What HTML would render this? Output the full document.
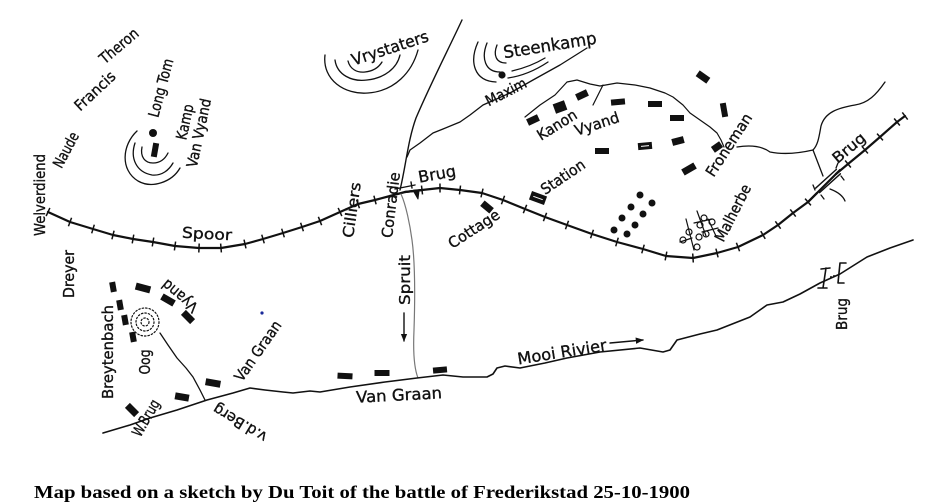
<!DOCTYPE html>
<html><head><meta charset="utf-8"><style>
html,body{margin:0;padding:0;background:#fff;}
svg{display:block;}
</style></head><body>
<svg width="932" height="504" viewBox="0 0 932 504" xmlns="http://www.w3.org/2000/svg">
<defs>
<marker id="t" viewBox="-5 -5 10 10" markerWidth="10" markerHeight="10" refX="0" refY="0" orient="auto" markerUnits="userSpaceOnUse" overflow="visible">
<line x1="0" y1="-4.5" x2="0" y2="4.5" stroke="#111" stroke-width="1.5"/>
</marker>
<marker id="ah" viewBox="0 0 10 10" markerWidth="8" markerHeight="8" refX="9" refY="5" orient="auto" markerUnits="userSpaceOnUse">
<path d="M0,1 L10,5 L0,9 Z" fill="#111"/>
</marker>
</defs>
<rect width="932" height="504" fill="#fff"/>

<g fill="none" stroke="#111" stroke-linecap="round" stroke-linejoin="round">
<polyline stroke-width="2.2" marker-start="url(#t)" marker-mid="url(#t)" points="48,212 70,222 93,229 113,235 133,239 153,242 175,246 199,248 221,248 245,244 263,239 283,233 302,227 320,221 340,212 358,204 375,200 390,196"/>
<polyline stroke-width="2.2" points="390,196 405,192 422,190"/>
<polyline stroke-width="2.2" marker-mid="url(#t)" points="405,192 422,190 440,188 460,190 482,193 503,200 525,209 545,217 567,225 592,234 617,242 643,249 666,256 693,258 717,253 738,247 763,235 778,225 793,213 808,202 817,193"/>
<polyline stroke-width="2.2" points="808,202 817,193 828,182 840,170"/>
<polyline stroke-width="2.2" marker-mid="url(#t)" marker-end="url(#t)" points="836,174 848,164 865,150 880,137 897,122 905,116"/>

<line x1="815.6" y1="188.2" x2="836.4" y2="169.4" stroke-width="1.4"/>
<line x1="819.6" y1="192.6" x2="840.4" y2="173.8" stroke-width="1.4"/>
<path d="M813,185 L815,190 M836,168 L838,163 M821,195 L824,199 M841,176 L844,180" stroke-width="1.3"/>
<path d="M830,189 C838,192 843,196 845,201" stroke-width="1.3"/>

<path d="M395,189 L415,185 M396,194 L416,190 M411,182 L412,188" stroke-width="1.4"/>
<path d="M414,192 L419,191 L418,199 Z" fill="#111" stroke-width="1"/>

<path d="M462,20 C448,50 430,85 416,118 C408,140 406,165 400,190" stroke-width="1.4"/>
<path d="M401,194 C406,205 410,225 412,240 C415,262 415,300 414,330 C413,352 414,368 418,378" stroke="#777" stroke-width="1.2"/>
<polyline stroke-width="1.3" points="587,48 560,65 533,80 510,93 483,105 470,115 460,122 443,129 433,133 420,143 410,150 407,157"/>
<polyline stroke-width="1.2" points="525,117 540,105 555,95 567,82 577,80 590,84 600,86 617,83 635,85 650,88 665,93 673,97 683,105 690,113 700,120 710,127 717,133 721,140 724,147"/>
<polyline stroke-width="1.2" points="603,85 598,95 593,105"/>
<path d="M885,82 C876,95 868,103 855,105 C838,108 825,112 821,126 C819,137 818,145 813,150" stroke-width="1.3"/>
<path d="M737,147 C750,145 762,146 770,152 C785,155 800,153 813,150" stroke-width="1.3"/>
<path d="M813,150 L823,176" stroke-width="1.3"/>

<polyline stroke-width="1.6" points="103,433 130,425 150,418 177,410 207,400 233,393 250,388 265,390 283,392 293,393 310,391 320,392 350,387 385,382 417,378 443,375 463,377 487,377 493,374 497,368 505,366 520,368 545,363 567,358 600,352 640,348 663,352 670,350 677,340 700,334 717,330 750,317 767,305 783,302 800,294 820,283 840,274 867,257 890,248 913,240"/>
<path d="M821,269 L830,268 M826,268 L823,288 M818,288 L827,288" stroke-width="1.6"/>
<path d="M846,263 L840,263 L838,283 L844,283" stroke-width="1.6"/>

<polyline stroke-width="1.3" points="160,333 168,345 177,358 186,368 193,377 200,390 205,400"/>

<path d="M137,131 C122,145 120,170 138,181 C152,189 172,182 180,168" stroke-width="1.3"/>
<path d="M135,143 C130,158 136,172 152,175 C162,176 169,170 173,163" stroke-width="1.3"/>
<path d="M142,147 C140,157 145,163 153,163 C160,163 165,159 168,153" stroke-width="1.3"/>

<path d="M325,55 C322,80 345,95 368,93 C395,91 412,72 418,50" stroke-width="1.3"/>
<path d="M335,60 C337,75 352,82 367,80 C385,78 397,68 400,55" stroke-width="1.3"/>
<path d="M348,61 C350,69 357,73 365,72 C374,71 379,67 382,62" stroke-width="1.3"/>

<path d="M478,42 C469,62 474,81 496,82 M508,78 C522,76 536,70 548,62" stroke-width="1.3"/>
<path d="M487,43 C481,58 485,72 500,72 M512,71 C525,68 535,64 545,58" stroke-width="1.3"/>
<path d="M497,45 C493,55 496,63 506,63" stroke-width="1.3"/>

<circle cx="145" cy="322" r="14" stroke-width="1.2" stroke-dasharray="1.5 2"/>
<circle cx="145" cy="322" r="9" stroke-width="1.2" stroke-dasharray="1.5 2"/>
<circle cx="145" cy="322" r="4" stroke-width="1.2" stroke-dasharray="1.5 2"/>

<g stroke-width="1.2">
<circle cx="683" cy="240" r="3"/><circle cx="689" cy="232" r="3"/>
<circle cx="697" cy="247" r="3"/><circle cx="699" cy="237" r="3"/>
<circle cx="700" cy="225" r="3"/><circle cx="704" cy="218" r="3"/>
<circle cx="712" cy="222" r="3"/><circle cx="706" cy="234" r="3"/>
<path d="M686,219 L694,250 M697,211 L706,236 M708,219 L716,236 M680,242 L692,238 M694,223 L712,219 M702,232 L718,228"/>
</g>

<line x1="404" y1="313" x2="404" y2="341" stroke-width="1.4" marker-end="url(#ah)"/>
<line x1="610" y1="343" x2="643" y2="340" stroke-width="1.4" marker-end="url(#ah)"/>
</g>

<g fill="#111">
<circle cx="153" cy="133" r="4"/>
<circle cx="502" cy="75" r="3.6"/>
<circle cx="831" cy="277" r="1"/><circle cx="834" cy="276" r="1"/>
<circle cx="640" cy="195" r="3.5"/><circle cx="652" cy="203" r="3.5"/>
<circle cx="631" cy="207" r="3.5"/><circle cx="643" cy="214" r="3.5"/>
<circle cx="622" cy="218" r="3.5"/><circle cx="635" cy="225" r="3.5"/>
<circle cx="614" cy="230" r="3.5"/><circle cx="627" cy="234" r="3.5"/>
</g>
<circle cx="262" cy="313" r="1.6" fill="#1a2a9a"/>

<g fill="#111">
<rect x="-6" y="-3.5" width="12" height="7" transform="translate(533,120) rotate(-25)"/>
<rect x="-6" y="-5" width="12" height="10" transform="translate(560,107) rotate(-20)"/>
<rect x="-6" y="-3.5" width="12" height="7" transform="translate(582,95) rotate(-25)"/>
<rect x="-7" y="-3" width="14" height="6" transform="translate(618,102) rotate(-5)"/>
<rect x="-7" y="-3" width="14" height="6" transform="translate(655,104)"/>
<rect x="-6.5" y="-3.5" width="13" height="7" transform="translate(703,77) rotate(35)"/>
<rect x="-7" y="-3" width="14" height="6" transform="translate(677,118)"/>
<rect x="-3" y="-7" width="6" height="14" transform="translate(724,110) rotate(-10)"/>
<rect x="-7" y="-3" width="14" height="6" transform="translate(602,151)"/>
<rect x="-7" y="-3.5" width="14" height="7" transform="translate(645,146) rotate(-5)"/>
<rect x="-6" y="-3.5" width="12" height="7" transform="translate(678,141) rotate(-15)"/>
<rect x="-7" y="-3.5" width="14" height="7" transform="translate(689,169) rotate(-30)"/>
<rect x="-5" y="-3.5" width="10" height="7" transform="translate(717,147) rotate(-35)"/>
<rect x="-6" y="-3.5" width="12" height="7" transform="translate(487,207) rotate(40)"/>
<rect x="-8" y="-4.5" width="16" height="9" transform="translate(538,198) rotate(20)"/>
<rect x="-3" y="-7" width="6" height="14" transform="translate(155,150) rotate(10)"/>
<rect x="-3" y="-5" width="6" height="10" transform="translate(113,287) rotate(-10)"/>
<rect x="-7.5" y="-3.5" width="15" height="7" transform="translate(143,288) rotate(15)"/>
<rect x="-7" y="-3.5" width="14" height="7" transform="translate(168,300) rotate(30)"/>
<rect x="-6.5" y="-3.5" width="13" height="7" transform="translate(188,317) rotate(45)"/>
<rect x="-3" y="-5" width="6" height="10" transform="translate(120,305) rotate(-10)"/>
<rect x="-3" y="-5" width="6" height="10" transform="translate(125,320) rotate(-10)"/>
<rect x="-3" y="-5" width="6" height="10" transform="translate(133,337) rotate(-10)"/>
<rect x="-6.5" y="-3.5" width="13" height="7" transform="translate(132,410) rotate(45)"/>
<rect x="-7" y="-3.5" width="14" height="7" transform="translate(182,397) rotate(10)"/>
<rect x="-7.5" y="-3.5" width="15" height="7" transform="translate(213,383) rotate(10)"/>
<rect x="-7.5" y="-3" width="15" height="6" transform="translate(345,376) rotate(3)"/>
<rect x="-7.5" y="-3" width="15" height="6" transform="translate(382,373)"/>
<rect x="-7" y="-3" width="14" height="6" transform="translate(440,370) rotate(-5)"/>
</g>
<g stroke="#fff" stroke-width="1">
<line x1="-4" y1="0" x2="4" y2="0" transform="translate(645,146) rotate(-5)"/>
<line x1="-5" y1="0" x2="5" y2="0" transform="translate(538,198) rotate(20)"/>
</g>

<g font-family="DejaVu Sans, Liberation Sans, sans-serif" font-size="15" fill="#111" stroke="#111" stroke-width="0.35" text-anchor="middle" dominant-baseline="central">
<text transform="translate(119,46) rotate(-40)" textLength="46" lengthAdjust="spacingAndGlyphs">Theron</text>
<text transform="translate(95,91) rotate(-43)" textLength="50" lengthAdjust="spacingAndGlyphs">Francis</text>
<text transform="translate(66,150) rotate(-62)" textLength="38" lengthAdjust="spacingAndGlyphs">Naude</text>
<text transform="translate(40,195) rotate(-90)" textLength="82" lengthAdjust="spacingAndGlyphs">Welverdiend</text>
<text transform="translate(161,88) rotate(-75)" textLength="60" lengthAdjust="spacingAndGlyphs">Long Tom</text>
<text transform="translate(185,122) rotate(-78)" textLength="36" lengthAdjust="spacingAndGlyphs">Kamp</text>
<text transform="translate(199,133) rotate(-78)" textLength="70" lengthAdjust="spacingAndGlyphs">Van Vyand</text>
<text transform="translate(207,234) rotate(3)" textLength="50" lengthAdjust="spacingAndGlyphs">Spoor</text>
<text transform="translate(69,274) rotate(-90)" textLength="48" lengthAdjust="spacingAndGlyphs">Dreyer</text>
<text transform="translate(352,210) rotate(-82)" textLength="56" lengthAdjust="spacingAndGlyphs">Cilliers</text>
<text transform="translate(391,205) rotate(-83)" textLength="66" lengthAdjust="spacingAndGlyphs">Conradie</text>
<text transform="translate(437,174) rotate(-10)" textLength="38" font-size="16" lengthAdjust="spacingAndGlyphs">Brug</text>
<text transform="translate(390,48) rotate(-18)" textLength="80" font-size="16" lengthAdjust="spacingAndGlyphs">Vrystaters</text>
<text transform="translate(550,46) rotate(-9)" textLength="94" font-size="17" lengthAdjust="spacingAndGlyphs">Steenkamp</text>
<text transform="translate(506,92) rotate(-27)" textLength="44" lengthAdjust="spacingAndGlyphs">Maxim</text>
<text transform="translate(557,125) rotate(-32)" textLength="44" lengthAdjust="spacingAndGlyphs">Kanon</text>
<text transform="translate(597,124) rotate(-18)" textLength="46" lengthAdjust="spacingAndGlyphs">Vyand</text>
<text transform="translate(563,177) rotate(-34)" textLength="50" lengthAdjust="spacingAndGlyphs">Station</text>
<text transform="translate(474,229) rotate(-33)" textLength="58" lengthAdjust="spacingAndGlyphs">Cottage</text>
<text transform="translate(729,145) rotate(-57)" textLength="72" lengthAdjust="spacingAndGlyphs">Froneman</text>
<text transform="translate(733,213) rotate(-63)" textLength="62" lengthAdjust="spacingAndGlyphs">Malherbe</text>
<text transform="translate(849,148) rotate(-40)" textLength="38" lengthAdjust="spacingAndGlyphs">Brug</text>
<text transform="translate(405,280) rotate(-90)" textLength="50" lengthAdjust="spacingAndGlyphs">Spruit</text>
<text transform="translate(180,296) rotate(220)" textLength="42" lengthAdjust="spacingAndGlyphs">Vyand</text>
<text transform="translate(108,352) rotate(-90)" textLength="94" lengthAdjust="spacingAndGlyphs">Breytenbach</text>
<text transform="translate(145,362) rotate(-90)" textLength="25" lengthAdjust="spacingAndGlyphs">Oog</text>
<text transform="translate(258,351) rotate(-55)" textLength="70" lengthAdjust="spacingAndGlyphs">Van Graan</text>
<text transform="translate(146,418) rotate(-60)" textLength="40" lengthAdjust="spacingAndGlyphs">W.Brug</text>
<text transform="translate(240,423) rotate(211)" textLength="60" lengthAdjust="spacingAndGlyphs">v.d.Berg</text>
<text transform="translate(399,395) rotate(-3)" textLength="86" font-size="16" lengthAdjust="spacingAndGlyphs">Van Graan</text>
<text transform="translate(562,352) rotate(-9)" textLength="90" font-size="16" lengthAdjust="spacingAndGlyphs">Mooi Rivier</text>
<text transform="translate(842,314) rotate(-90)" textLength="32" lengthAdjust="spacingAndGlyphs">Brug</text>
</g>

<text x="34" y="498" font-family="Liberation Serif, serif" font-weight="bold" font-size="18" fill="#000" textLength="656" lengthAdjust="spacingAndGlyphs">Map based on a sketch by Du Toit of the battle of Frederikstad 25-10-1900</text>
</svg>
</body></html>
